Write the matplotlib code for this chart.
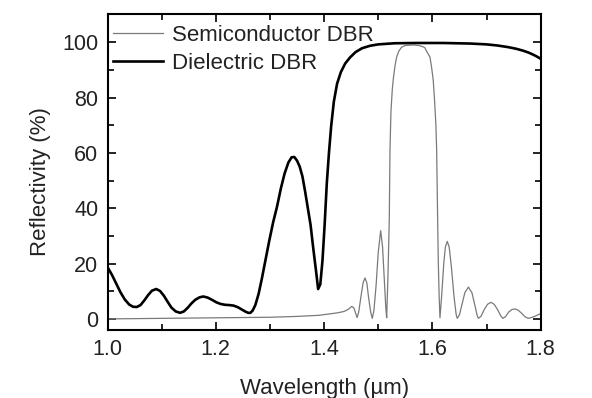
import matplotlib
matplotlib.use("Agg")
import matplotlib.pyplot as plt
from matplotlib.ticker import MultipleLocator

# reflectivity spectra
wl_diel = [1.000, 1.008, 1.016, 1.024, 1.032, 1.040, 1.047, 1.054, 1.061, 1.068,
           1.075, 1.082, 1.090, 1.097, 1.104, 1.111, 1.118, 1.126, 1.134, 1.141,
           1.148, 1.155, 1.162, 1.170, 1.177, 1.185, 1.193, 1.201, 1.209, 1.217,
           1.225, 1.233, 1.241, 1.248, 1.255, 1.260, 1.264, 1.268, 1.273, 1.279,
           1.285, 1.292, 1.299, 1.306, 1.313, 1.320, 1.327, 1.334, 1.340, 1.345,
           1.350, 1.355, 1.360, 1.365, 1.370, 1.375, 1.380, 1.385, 1.389, 1.393,
           1.397, 1.401, 1.405, 1.409, 1.413, 1.418, 1.424, 1.431, 1.439, 1.448,
           1.458, 1.470, 1.485, 1.500, 1.530, 1.570, 1.620, 1.670, 1.700, 1.720,
           1.740, 1.755, 1.768, 1.778, 1.786, 1.793, 1.800]
r_diel = [18.7, 16.0, 12.8, 9.6, 7.0, 5.2, 4.4, 4.3, 5.0, 6.7,
          8.6, 10.2, 10.8, 10.1, 8.4, 6.2, 4.1, 2.7, 2.2, 2.7,
          4.0, 5.6, 6.9, 7.8, 8.1, 7.7, 6.9, 6.0, 5.4, 5.1,
          5.0, 4.8, 4.2, 3.4, 2.6, 2.2, 2.2, 3.0, 5.0, 9.0,
          14.5, 21.5, 28.5, 35.0, 40.5, 47.0, 52.5, 56.5, 58.4, 58.5,
          57.2, 55.0, 51.5, 46.0, 40.0, 34.0, 25.5, 17.5, 10.8, 12.5,
          21.0, 34.0, 49.0, 60.0, 69.5, 78.5, 85.0, 89.2, 92.3, 94.5,
          96.4, 97.8, 98.7, 99.2, 99.6, 99.7, 99.7, 99.5, 99.2, 98.8,
          98.2, 97.6, 96.9, 96.2, 95.5, 94.8, 94.0]

wl_semi = [1.000, 1.050, 1.100, 1.150, 1.200, 1.250, 1.300, 1.350, 1.390, 1.410,
           1.425, 1.437, 1.445, 1.451, 1.455, 1.458, 1.461, 1.464, 1.468, 1.472,
           1.4755, 1.479, 1.482, 1.486, 1.489, 1.492, 1.496, 1.500, 1.5045, 1.508,
           1.511, 1.514, 1.5156, 1.518, 1.5204, 1.5217, 1.5235, 1.526, 1.528, 1.531,
           1.534, 1.538, 1.5433, 1.550, 1.5647, 1.575, 1.582, 1.586, 1.590, 1.5955,
           1.5985, 1.6016, 1.604, 1.6065, 1.6079, 1.6097, 1.611, 1.6125, 1.614, 1.617,
           1.621, 1.624, 1.6275, 1.631, 1.635, 1.640, 1.644, 1.646, 1.650, 1.655,
           1.660, 1.6665, 1.673, 1.679, 1.683, 1.685, 1.690, 1.696, 1.702, 1.708,
           1.714, 1.720, 1.726, 1.730, 1.735, 1.741, 1.747, 1.7525, 1.758, 1.764,
           1.771, 1.777, 1.783, 1.790, 1.795, 1.800]
r_semi = [0.0, 0.1, 0.2, 0.3, 0.4, 0.5, 0.6, 0.9, 1.3, 1.8,
          2.2, 2.7, 3.5, 4.5, 4.0, 2.2, 0.5, 2.5, 8.0, 13.0,
          14.8, 13.0, 8.0, 2.5, 0.2, 3.0, 12.0, 24.0, 31.9, 26.0,
          15.0, 4.0, 0.4, 16.0, 36.0, 61.0, 75.0, 83.0, 87.0, 91.5,
          94.6, 96.8, 98.2, 98.8, 99.0, 98.8, 98.4, 98.0, 96.5, 94.6,
          91.0, 86.2, 79.0, 70.0, 61.0, 36.0, 20.0, 8.0, 0.4, 8.0,
          20.0, 26.0, 28.0, 26.0, 19.0, 8.0, 1.5, 0.2, 1.5, 5.5,
          9.5, 11.5, 9.5, 4.5, 1.0, 0.2, 1.0, 3.5, 5.3, 6.0,
          5.3, 3.5, 1.2, 0.2, 0.8, 2.5, 3.4, 3.6, 3.2, 2.2,
          0.8, 0.2, 0.5, 1.0, 1.5, 1.9]

plt.rcParams['font.family'] = ['Liberation Sans', 'DejaVu Sans']
plt.rcParams['font.size'] = 16

fig = plt.figure(figsize=(5.92, 3.98), dpi=100)
ax = fig.add_axes([0.1816, 0.1709, 0.7317, 0.7927])

ax.plot(wl_semi, r_semi, color='#7a7a7a', lw=0.9, label='Semiconductor DBR')
ax.plot(wl_diel, r_diel, color='black', lw=1.9, label='Dielectric DBR')

ax.set_xlim(1.0, 1.8)
ax.set_ylim(-4, 110)
ax.xaxis.set_minor_locator(MultipleLocator(0.1))
ax.yaxis.set_minor_locator(MultipleLocator(10))
ax.set_xticks([1.0, 1.2, 1.4, 1.6, 1.8], ['1.0', '1.2', '1.4', '1.6', '1.8'])
ax.set_yticks([0, 20, 40, 60, 80, 100])

ax.tick_params(which='both', direction='in', top=True, right=True, width=1.2,
               colors='black', labelcolor='#222222')
ax.tick_params(which='major', length=6, pad=6.5, labelsize=15.5)
ax.tick_params(which='minor', length=4)
for sp in ax.spines.values():
    sp.set_linewidth(1.5)

ax.set_xlabel('Wavelength (µm)', color='#222222')
ax.set_ylabel('Reflectivity (%)', color='#222222')
ax.xaxis.set_label_coords(0.5, -0.152)
ax.yaxis.set_label_coords(-0.13, 0.47)

leg = ax.legend(loc='upper left', bbox_to_anchor=(0.0127, 0.966), frameon=False,
                borderpad=0, borderaxespad=0, handlelength=2.25,
                handletextpad=0.4, labelspacing=0.3, fontsize=16)
for t in leg.get_texts():
    t.set_color('#222222')

fig.savefig('out.png', dpi=100)
